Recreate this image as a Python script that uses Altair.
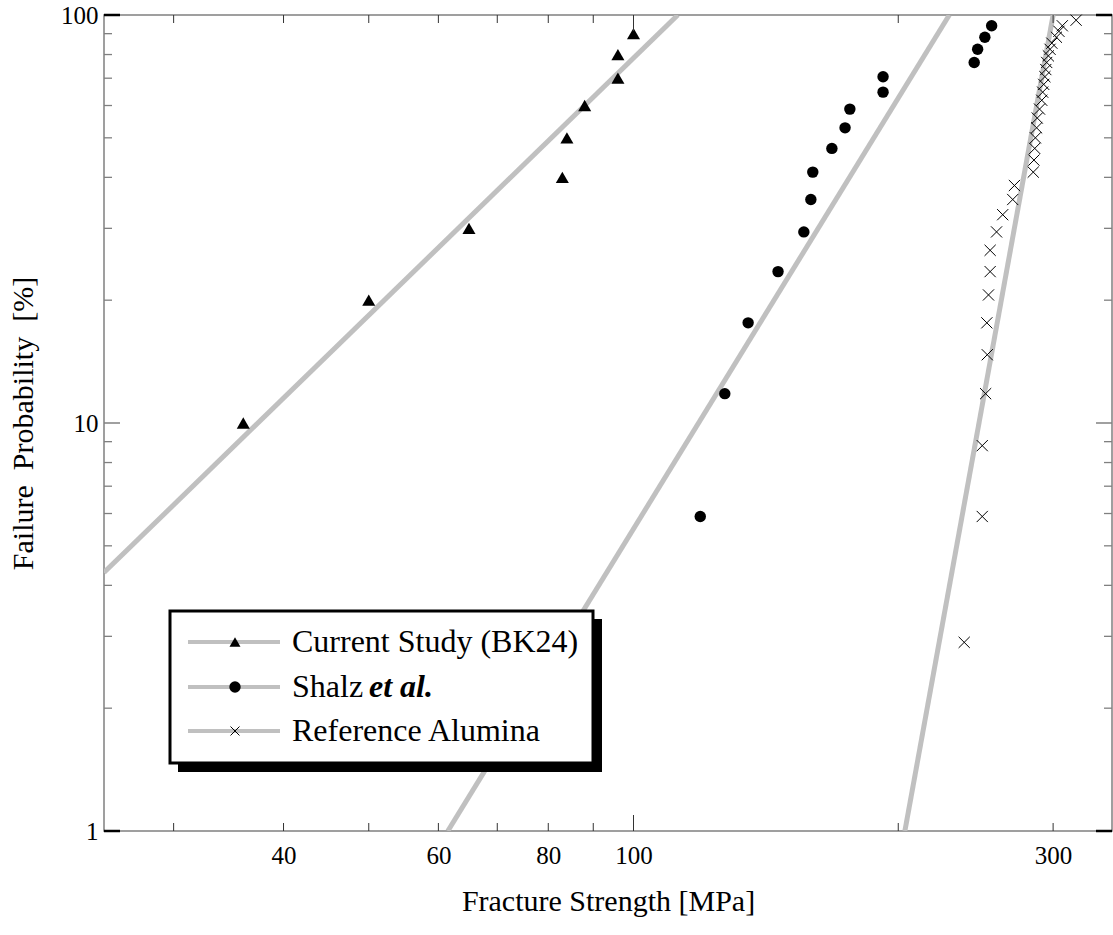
import altair as alt
import pandas as pd

SERIF = "Liberation Serif"

# ---------------- data ----------------
# Current Study (BK24)
bk_strength = [36, 50, 65, 83, 84, 88, 96, 96, 100]
bk_prob = [10, 20, 30, 40, 50, 60, 70, 80, 90]

# Shalz et al.
sh_strength = [119.1, 127.0, 135.0, 146.0, 156.2, 159.1, 159.9, 168.1,
               174.0, 176.2, 192.2, 192.2, 244.0, 246.2, 250.9, 255.4]
sh_prob = [5.9, 11.8, 17.6, 23.5, 29.4, 35.3, 41.2, 47.1,
           52.9, 58.8, 64.7, 70.6, 76.5, 82.4, 88.2, 94.1]

# Reference Alumina
al_strength = [237.7, 249.2, 249.2, 251.4, 252.5, 252.2, 253.3, 254.4, 254.4,
               258.7, 262.9, 269.9, 271.1, 284.8, 285.3, 285.9, 286.4, 287.3,
               287.8, 289.5, 291.2, 291.9, 292.7, 293.6, 294.3, 295.0, 296.3,
               297.6, 299.0, 302.6, 304.6, 307.3, 318.6]
al_prob = [2.9, 5.9, 8.8, 11.8, 14.7, 17.6, 20.6, 23.5, 26.5, 29.4, 32.4,
           35.3, 38.2, 41.2, 44.1, 47.1, 50.0, 52.9, 55.9, 58.8, 61.8, 64.7,
           67.6, 70.6, 73.5, 76.5, 79.4, 82.4, 85.3, 88.2, 91.2, 94.1, 97.1]

# Weibull fit lines (end points)
bk_fit_x = [25, 112.3]
bk_fit_y = [4.3, 100]
sh_fit_x = [61.5, 228.6]
sh_fit_y = [1, 100]
al_fit_x = [203.5, 300]
al_fit_y = [1, 100]

# axis ticks / labels
x_label_values = [40, 60, 80, 100, 300]
x_minor_ticks = [30, 40, 50, 60, 70, 80, 90, 200, 300]
x_major_ticks = [100]
y_label_values = [1, 10, 100]
y_minor_ticks = [2, 3, 4, 5, 6, 7, 8, 9, 20, 30, 40, 50, 60, 70, 80, 90]
y_major_inner = [10]
y_major_edge = [1, 100]

legend_labels = ["Current Study (BK24)", "Shalz", "Reference Alumina"]
legend_italic = "et al."

# ---------------- chart ----------------
W, H = 1008, 816
LINE_GRAY = "#c0c0c0"
AXIS_GRAY = "#808080"
CROSS = "M-1,-1L1,1M-1,1L1,-1"

xscale = alt.Scale(type="log", domain=[25, 350], nice=False)
yscale = alt.Scale(type="log", domain=[1, 100], nice=False)

xaxis = alt.Axis(values=x_label_values, format="d", ticks=False, domain=False,
                 grid=False, labelFont=SERIF, labelFontSize=25,
                 labelColor="black", labelPadding=12, labelFlush=False,
                 labelOverlap=False, title="Fracture Strength [MPa]",
                 titleFont=SERIF, titleFontSize=30, titleFontWeight="normal",
                 titleColor="black", titleX=W / 2, titleY=70,
                 titleAlign="center", titleBaseline="middle")
yaxis = alt.Axis(values=y_label_values, format="d", ticks=False, domain=False,
                 grid=False, labelFont=SERIF, labelFontSize=25,
                 labelColor="black", labelPadding=6, labelFlush=False,
                 labelOverlap=False,
                 title="Failure\u2002Probability\u2002[%]",
                 titleFont=SERIF, titleFontSize=30, titleFontWeight="normal",
                 titleColor="black", titleX=-81, titleY=H / 2, titleAngle=270,
                 titleAlign="center", titleBaseline="middle")

X = alt.X("x:Q", scale=xscale, axis=xaxis)
Y = alt.Y("y:Q", scale=yscale, axis=yaxis)


def df(xs, ys):
    return pd.DataFrame({"x": xs, "y": ys})


layers = []

# fit lines
for fx, fy in [(bk_fit_x, bk_fit_y), (sh_fit_x, sh_fit_y), (al_fit_x, al_fit_y)]:
    layers.append(
        alt.Chart(df(fx, fy)).mark_line(color=LINE_GRAY, strokeWidth=5, clip=True)
        .encode(x=X, y=Y)
    )

# data points
layers.append(
    alt.Chart(df(bk_strength, bk_prob))
    .mark_point(shape="triangle-up", filled=True, color="black", size=170, opacity=1)
    .encode(x=X, y=Y)
)
layers.append(
    alt.Chart(df(sh_strength, sh_prob))
    .mark_point(shape="circle", filled=True, color="black", size=130, opacity=1)
    .encode(x=X, y=Y)
)
layers.append(
    alt.Chart(df(al_strength, al_prob))
    .mark_point(shape=CROSS, filled=False, color="black", size=125,
                strokeWidth=1, opacity=1)
    .encode(x=X, y=Y)
)

# inward ticks
def xticks(vals, length, color):
    d = pd.DataFrame({"x": vals})
    bottom = alt.Chart(d).mark_rule(color=color, strokeWidth=1).encode(
        x=X, y=alt.value(H), y2=alt.value(H - length))
    top = alt.Chart(d).mark_rule(color=color, strokeWidth=1).encode(
        x=X, y=alt.value(0), y2=alt.value(length))
    return [bottom, top]


def yticks(vals, length, color, width):
    d = pd.DataFrame({"y": vals})
    left = alt.Chart(d).mark_rule(color=color, strokeWidth=width).encode(
        y=Y, x=alt.value(0), x2=alt.value(length))
    right = alt.Chart(d).mark_rule(color=color, strokeWidth=width).encode(
        y=Y, x=alt.value(W), x2=alt.value(W - length))
    return [left, right]


layers += xticks(x_minor_ticks, 8, "#333333")
layers += xticks(x_major_ticks, 16, "#333333")
layers += yticks(y_minor_ticks, 8, AXIS_GRAY, 1.3)
layers += yticks(y_major_inner, 16, AXIS_GRAY, 1.5)
layers += yticks(y_major_edge, 16, "black", 2.5)

# legend (drawn inside the plot)
one = pd.DataFrame({"k": [0]})
layers.append(alt.Chart(one).mark_rect(color="black").encode(
    x=alt.value(74), x2=alt.value(498), y=alt.value(604), y2=alt.value(757)))
layers.append(alt.Chart(one).mark_rect(fill="white", stroke="black", strokeWidth=3).encode(
    x=alt.value(66), x2=alt.value(489), y=alt.value(596), y2=alt.value(748)))

rows = [627, 672, 716]
markers = [
    dict(shape="triangle-up", filled=True, size=120, strokeWidth=1),
    dict(shape="circle", filled=True, size=130, strokeWidth=1),
    dict(shape=CROSS, filled=False, size=80, strokeWidth=1),
]
for ry, lab, mk in zip(rows, legend_labels, markers):
    layers.append(alt.Chart(one).mark_rule(color=LINE_GRAY, strokeWidth=4).encode(
        x=alt.value(84), x2=alt.value(176), y=alt.value(ry)))
    layers.append(alt.Chart(one).mark_point(color="black", opacity=1, **mk).encode(
        x=alt.value(131), y=alt.value(ry)))
    layers.append(alt.Chart(one).mark_text(
        align="left", baseline="middle", font=SERIF, fontSize=32, color="black"
    ).encode(x=alt.value(188), y=alt.value(ry), text=alt.value(lab)))

layers.append(alt.Chart(one).mark_text(
    align="left", baseline="middle", font=SERIF, fontSize=32, color="black",
    fontStyle="italic", fontWeight="bold"
).encode(x=alt.value(265), y=alt.value(rows[1]), text=alt.value(legend_italic)))

chart = alt.layer(*layers).properties(
    width=W, height=H,
    padding={"left": 104, "top": 15, "right": 1, "bottom": 104},
    autosize=alt.AutoSizeParams(type="none"),
    background="white",
).configure_view(stroke=AXIS_GRAY, strokeWidth=1.5)

chart.save("out.html", embed_options={"renderer": "svg", "actions": False})
